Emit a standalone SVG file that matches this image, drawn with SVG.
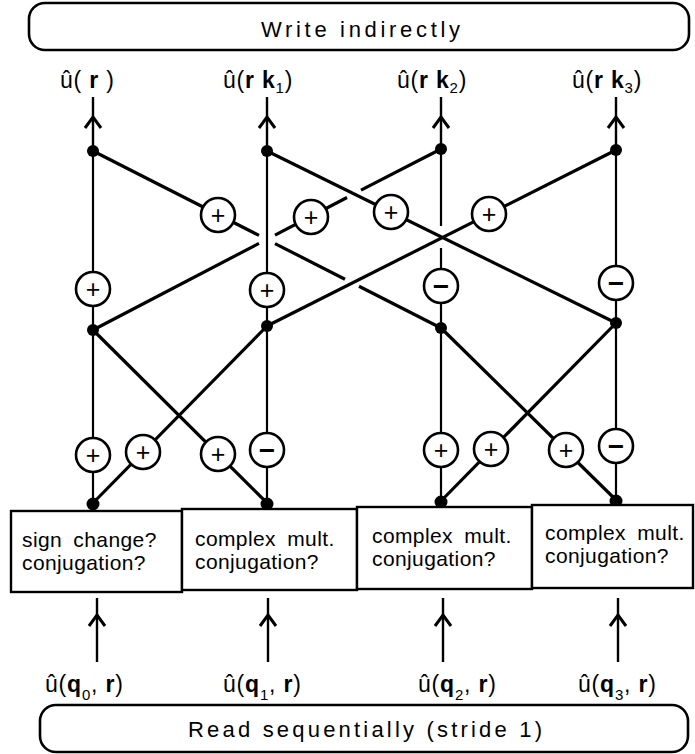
<svg xmlns="http://www.w3.org/2000/svg" width="695" height="754" viewBox="0 0 695 754">
<defs>
<marker id="chev" viewBox="-14 -10 20 20" markerWidth="20" markerHeight="20" refX="0" refY="0" orient="auto" markerUnits="userSpaceOnUse">
<path d="M-11,-8 L0,0 L-11,8" fill="none" stroke="#000" stroke-width="3"/>
</marker>
</defs>
<style>
.bar{fill:#fff;stroke:#000;stroke-width:2.6}
.box{fill:#fff;stroke:#000;stroke-width:2.4}
.ln{fill:none;stroke:#000;stroke-width:3.2;stroke-linecap:butt}
.vl{fill:none;stroke:#000;stroke-width:2.2}
.ar{fill:none;stroke:#000;stroke-width:2.4;marker-mid:url(#chev)}
.op{fill:#fff;stroke:#000;stroke-width:2.6}
.dot{fill:#000}
text{font-family:"Liberation Sans",Arial,sans-serif;fill:#000}
.big{font-size:22px}
.bt{font-size:21px;letter-spacing:0.4px;word-spacing:5px}
.lb{font-size:23px;letter-spacing:0.8px}
.b{font-weight:bold}
.sub{font-size:15px}
.pl{font-size:25px;text-anchor:middle}
.mi{font-size:28px;font-weight:bold;text-anchor:middle}
</style>

<g id="write-bar">
<rect class="bar" x="29" y="3" width="660" height="47" rx="16"/>
<text class="big" x="261" y="37" textLength="199" lengthAdjust="spacing">Write  indirectly</text>
</g>

<g id="read-bar">
<rect class="bar" x="40" y="705" width="648" height="47" rx="16"/>
<text class="big" x="188" y="737" textLength="354" lengthAdjust="spacing">Read  sequentially  (stride  1)</text>
</g>

<g id="connectors">
<polyline class="ar" points="93,151 93,117 93,97"/>
<polyline class="ar" points="267,151 267,117 267,97"/>
<polyline class="ar" points="441,149 441,117 441,97"/>
<polyline class="ar" points="616,150 616,117 616,97"/>
<polyline class="ar" points="97,662 97,615 97,598"/>
<polyline class="ar" points="268,662 268,615 268,598"/>
<polyline class="ar" points="443,662 443,615 443,598"/>
<polyline class="ar" points="618,662 618,615 618,598"/>
<line class="vl" x1="93" y1="151" x2="93" y2="330"/>
<line class="vl" x1="267" y1="151" x2="267" y2="326"/>
<line class="vl" x1="441" y1="149" x2="441" y2="226"/>
<line class="vl" x1="441" y1="248" x2="441" y2="328"/>
<line class="vl" x1="616" y1="150" x2="616" y2="323"/>
<polyline class="ln" points="93,151 259,235.4"/>
<polyline class="ln" points="275,243.6 345,279.2"/>
<polyline class="ln" points="359,286.3 441,328"/>
<polyline class="ln" points="93,330 259,243.4"/>
<polyline class="ln" points="275,235.1 347,197.5"/>
<polyline class="ln" points="361,190.2 441,149"/>
<line class="ln" x1="267" y1="151" x2="616" y2="323"/>
<line class="ln" x1="267" y1="326" x2="616" y2="150"/>
<line class="vl" x1="93" y1="330" x2="93" y2="503"/>
<line class="vl" x1="267" y1="326" x2="267" y2="503"/>
<line class="vl" x1="441" y1="328" x2="441" y2="501"/>
<line class="vl" x1="616" y1="323" x2="616" y2="500"/>
<line class="ln" x1="93" y1="503" x2="267" y2="326"/>
<line class="ln" x1="267" y1="503" x2="93" y2="330"/>
<line class="ln" x1="441" y1="501" x2="616" y2="323"/>
<line class="ln" x1="616" y1="500" x2="441" y2="328"/>
</g>

<g id="dots">
<circle class="dot" cx="93" cy="151" r="6"/>
<circle class="dot" cx="267" cy="151" r="6"/>
<circle class="dot" cx="441" cy="149" r="6"/>
<circle class="dot" cx="616" cy="150" r="6"/>
<circle class="dot" cx="93" cy="330" r="6"/>
<circle class="dot" cx="267" cy="326" r="6"/>
<circle class="dot" cx="441" cy="328" r="6"/>
<circle class="dot" cx="616" cy="323" r="6"/>
<circle class="dot" cx="93" cy="504" r="6.5"/>
<circle class="dot" cx="267" cy="504" r="6.5"/>
<circle class="dot" cx="441" cy="502" r="6.5"/>
<circle class="dot" cx="616" cy="501" r="6.5"/>
</g>

<g id="op-top-a"><circle class="op" cx="218" cy="215" r="17"/><text class="pl" x="218" y="224">+</text></g>
<g id="op-top-b"><circle class="op" cx="311" cy="217" r="17"/><text class="pl" x="311" y="226">+</text></g>
<g id="op-top-c"><circle class="op" cx="391" cy="212" r="17"/><text class="pl" x="391" y="221">+</text></g>
<g id="op-top-d"><circle class="op" cx="489" cy="214" r="17"/><text class="pl" x="489" y="223">+</text></g>
<g id="op-mid-0"><circle class="op" cx="93" cy="289" r="17"/><text class="pl" x="93" y="298">+</text></g>
<g id="op-mid-1"><circle class="op" cx="267" cy="290" r="17"/><text class="pl" x="267" y="299">+</text></g>
<g id="op-mid-2"><circle class="op" cx="441" cy="286" r="17"/><text class="mi" x="441" y="296">−</text></g>
<g id="op-mid-3"><circle class="op" cx="616" cy="283" r="17"/><text class="mi" x="616" y="293">−</text></g>
<g id="op-bot-0"><circle class="op" cx="93" cy="455" r="17"/><text class="pl" x="93" y="464">+</text></g>
<g id="op-bot-0x"><circle class="op" cx="143" cy="452" r="17"/><text class="pl" x="143" y="461">+</text></g>
<g id="op-bot-1x"><circle class="op" cx="218" cy="454" r="17"/><text class="pl" x="218" y="463">+</text></g>
<g id="op-bot-1"><circle class="op" cx="267" cy="450" r="17"/><text class="mi" x="267" y="460">−</text></g>
<g id="op-bot-2"><circle class="op" cx="441" cy="450" r="17"/><text class="pl" x="441" y="459">+</text></g>
<g id="op-bot-2x"><circle class="op" cx="491" cy="449" r="17"/><text class="pl" x="491" y="458">+</text></g>
<g id="op-bot-3x"><circle class="op" cx="566" cy="450" r="17"/><text class="pl" x="566" y="459">+</text></g>
<g id="op-bot-3"><circle class="op" cx="616" cy="446" r="17"/><text class="mi" x="616" y="456">−</text></g>

<g id="box-0">
<rect class="box" x="11" y="511" width="171" height="81"/>
<text class="bt" x="22" y="547">sign change?</text>
<text class="bt" x="22" y="570">conjugation?</text>
</g>
<g id="box-1">
<rect class="box" x="182" y="509" width="175" height="81"/>
<text class="bt" x="195" y="546">complex mult.</text>
<text class="bt" x="195" y="569">conjugation?</text>
</g>
<g id="box-2">
<rect class="box" x="357" y="507" width="175" height="82"/>
<text class="bt" x="372" y="543">complex mult.</text>
<text class="bt" x="372" y="566">conjugation?</text>
</g>
<g id="box-3">
<rect class="box" x="532" y="505" width="161" height="83"/>
<text class="bt" x="545" y="540">complex mult.</text>
<text class="bt" x="545" y="563">conjugation?</text>
</g>

<g id="out-labels">
<text class="lb" x="60" y="88" xml:space="preserve">û( <tspan class="b">r</tspan> )</text>
<text class="lb" x="223" y="88">û(<tspan class="b">r k</tspan><tspan class="sub" dy="5">1</tspan><tspan dy="-5">)</tspan></text>
<text class="lb" x="397" y="88">û(<tspan class="b">r k</tspan><tspan class="sub" dy="5">2</tspan><tspan dy="-5">)</tspan></text>
<text class="lb" x="572" y="88">û(<tspan class="b">r k</tspan><tspan class="sub" dy="5">3</tspan><tspan dy="-5">)</tspan></text>
</g>

<g id="in-labels">
<text class="lb" x="45" y="692">û(<tspan class="b">q</tspan><tspan class="sub" dy="8">0</tspan><tspan dy="-8">, </tspan><tspan class="b">r</tspan>)</text>
<text class="lb" x="223" y="692">û(<tspan class="b">q</tspan><tspan class="sub" dy="8">1</tspan><tspan dy="-8">, </tspan><tspan class="b">r</tspan>)</text>
<text class="lb" x="418" y="692">û(<tspan class="b">q</tspan><tspan class="sub" dy="8">2</tspan><tspan dy="-8">, </tspan><tspan class="b">r</tspan>)</text>
<text class="lb" x="578" y="692">û(<tspan class="b">q</tspan><tspan class="sub" dy="8">3</tspan><tspan dy="-8">, </tspan><tspan class="b">r</tspan>)</text>
</g>
</svg>
